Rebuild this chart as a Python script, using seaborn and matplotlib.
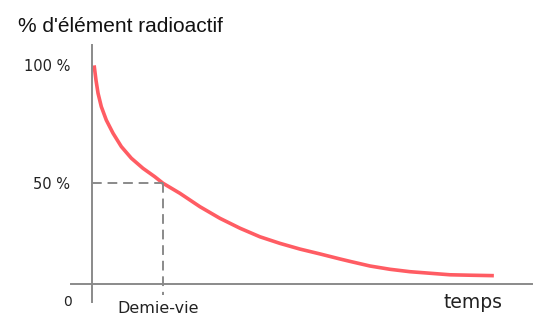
import matplotlib
matplotlib.use("Agg")
import matplotlib.pyplot as plt
import seaborn as sns
import pandas as pd

# Decay curve.
# x: time in half-lives, y: drawn height (the source's axis is not to scale:
# its "50 %" mark sits at 45.9 on a 0-100 drawn scale)
t_halflives = [0.03, 0.056, 0.085, 0.131, 0.201, 0.296, 0.413, 0.554, 0.718,
               0.883, 1.0, 1.239, 1.521, 1.803, 2.085, 2.366, 2.648, 2.930,
               3.211, 3.493, 3.634, 3.915, 4.197, 4.479, 4.761, 5.042, 5.324,
               5.66]
height_left = [99.6, 92.9, 86.9, 80.8, 74.7, 68.7, 62.6, 57.3, 52.7,
               48.9, 45.9, 41.3, 35.2, 29.9, 25.4, 21.5, 18.5, 15.9,
               13.7, 11.4, 10.3, 8.2, 6.7, 5.6, 4.9, 4.2, 4.0,
               3.8]

ytick_vals = [45.9, 100]
ytick_labels = ["50 %", "100 %"]
half_life = 1.0
half_level = 45.9

df = pd.DataFrame({"t": t_halflives, "h": height_left})

sns.set_style("white")
plt.rcParams["font.family"] = ["DejaVu Sans"]

AXIS_GREY = "#8a8a8a"
CURVE_RED = "#ff5c63"

fig = plt.figure(figsize=(5.34, 3.16), dpi=100)
ax = fig.add_axes([0, 0, 1, 1])

sns.lineplot(data=df, x="t", y="h", ax=ax, color=CURVE_RED,
             linewidth=2.6, solid_capstyle="butt", sort=False)

# map data onto the pixel grid of the reference
ax.set_xlim(-92 / 71, (534 - 92) / 71)
ax.set_ylim(-(316 - 284) / 2.195, 284 / 2.195)

# axes crossing at the origin
for side in ["top", "right"]:
    ax.spines[side].set_visible(False)
ax.spines["left"].set_position(("data", 0))
ax.spines["bottom"].set_position(("data", 0))
ax.spines["left"].set_bounds(-8.2, 108.9)
ax.spines["bottom"].set_bounds(-0.296, 6.2)
for side in ["left", "bottom"]:
    ax.spines[side].set_color(AXIS_GREY)
    ax.spines[side].set_linewidth(1.4)
ax.set_facecolor("white")

ax.set_xticks([])
ax.set_yticks(ytick_vals)
ax.set_yticklabels(ytick_labels)
ax.tick_params(axis="y", direction="inout", length=17, width=1.4,
               color=AXIS_GREY, pad=7, labelsize=10.5, labelcolor="#222222")
ax.set_xlabel("")
ax.set_ylabel("")

# half-life guide lines
ax.plot([0, half_life], [half_level, half_level], color=AXIS_GREY, lw=1.4,
        dashes=(5, 3))
ax.plot([half_life, half_life], [half_level, -5.0], color=AXIS_GREY, lw=1.4,
        dashes=(5, 3))

ax.text(-1.042, 115.0, "% d'élément radioactif", fontsize=15,
        family="Liberation Sans", color="#111111", va="baseline", ha="left")
ax.text(-0.352, -10.0, "0", fontsize=10, color="#222222", ha="center",
        va="baseline")
ax.text(0.93, -13.2, "Demie-vie", fontsize=11.5, color="#222222",
        ha="center", va="baseline")
ax.text(5.37, -10.8, "temps", fontsize=13.5, color="#222222",
        ha="center", va="baseline")

fig.savefig("out.png", dpi=100)
plt.close(fig)
